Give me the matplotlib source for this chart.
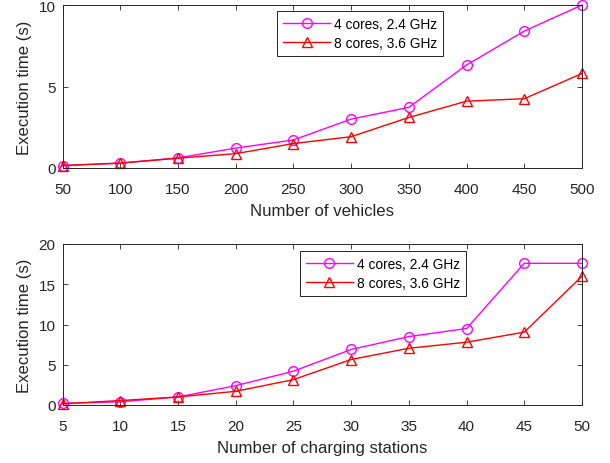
import matplotlib
matplotlib.use("Agg")
import matplotlib.pyplot as plt

plt.rcParams['font.family'] = ['Liberation Sans', 'DejaVu Sans']

vehicles = [50, 100, 150, 200, 250, 300, 350, 400, 450, 500]
veh_4cores = [0.15, 0.3, 0.62, 1.22, 1.72, 3.0, 3.72, 6.32, 8.4, 10.0]
veh_8cores = [0.15, 0.3, 0.6, 0.88, 1.5, 1.92, 3.1, 4.1, 4.25, 5.8]

stations = [5, 10, 15, 20, 25, 30, 35, 40, 45, 50]
sta_4cores = [0.2, 0.4, 1.0, 2.4, 4.2, 6.9, 8.5, 9.5, 17.6, 17.6]
sta_8cores = [0.15, 0.55, 1.0, 1.7, 3.15, 5.65, 7.05, 7.8, 9.05, 16.0]

labels = ['4 cores, 2.4 GHz', '8 cores, 3.6 GHz']
xlabels = ['Number of vehicles', 'Number of charging stations']
ylabel = 'Execution time (s)'

W, H = 610, 464
fig = plt.figure(figsize=(W / 100, H / 100), dpi=100)
L, R = 62.5, 582
ax1 = fig.add_axes([L / W, 1 - 169 / H, (R - L) / W, (169 - 6) / H])
ax2 = fig.add_axes([L / W, 1 - 406 / H, (R - L) / W, (406 - 245) / H])

axc = (0.15, 0.15, 0.15)
configs = [
    (ax1, vehicles, veh_4cores, veh_8cores, xlabels[0], (50, 500), (0, 10), [0, 5, 10], (0.413, 0.963)),
    (ax2, stations, sta_4cores, sta_8cores, xlabels[1], (5, 50), (0, 20), [0, 5, 10, 15, 20], (0.457, 0.9565)),
]
for ax, x, y4, y8, xl, xlim, ylim, yt, legpos in configs:
    ax.plot(x, y4, color=(1, 0, 1), marker='o', markersize=7, markerfacecolor='none',
            markeredgewidth=1.0, linewidth=1.0, clip_on=False, label=labels[0])
    ax.plot(x, y8, color=(1, 0, 0), marker='^', markersize=7.5, markerfacecolor='none',
            markeredgewidth=1.0, linewidth=1.0, clip_on=False, label=labels[1])
    ax.set_xlim(*xlim)
    ax.set_ylim(*ylim)
    ax.set_xticks(x)
    ax.set_yticks(yt)
    ax.tick_params(axis='x', pad=10)
    ax.tick_params(axis='y', pad=5)
    ax.tick_params(direction='in', top=True, right=True, labelsize=11, colors=axc,
                   length=3.6, width=0.6)
    for s in ax.spines.values():
        s.set_color(axc)
        s.set_linewidth(0.7)
    ax.set_xlabel(xl, fontsize=12.1, color=axc, labelpad=5)
    ax.set_ylabel(ylabel, fontsize=12.1, color=axc, labelpad=5)
    leg = ax.legend(loc='upper left', bbox_to_anchor=legpos, fontsize=9.9,
                    fancybox=False, framealpha=1, edgecolor=axc, handlelength=3.4,
                    borderpad=0.45, labelspacing=0.37, handletextpad=0.3, borderaxespad=0)
    leg.get_frame().set_linewidth(0.7)

fig.savefig('out.png', dpi=100)
